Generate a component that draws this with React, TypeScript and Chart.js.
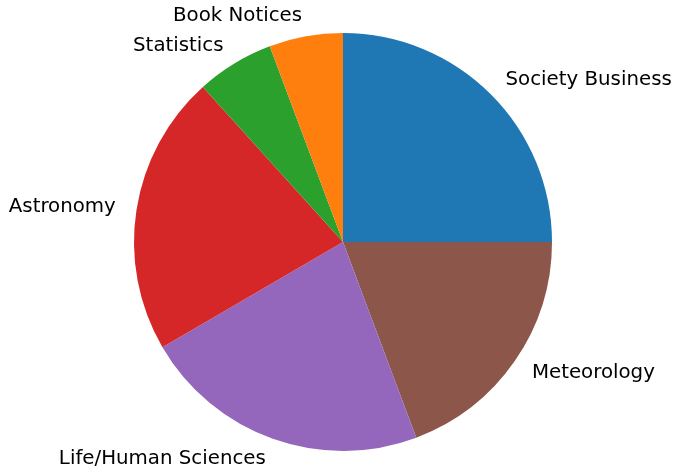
import React, { useEffect, useRef } from "react";
import { Chart, registerables } from "chart.js";

Chart.register(...registerables);

// Categories in matplotlib order (counter-clockwise from 3 o'clock)
const categories = [
  "Society Business",
  "Book Notices",
  "Statistics",
  "Astronomy",
  "Life/Human Sciences",
  "Meteorology",
];
const values = [25.0, 5.7, 6.0, 21.7, 22.3, 19.3];
const colors = ["#1f77b4", "#ff7f0e", "#2ca02c", "#d62728", "#9467bd", "#8c564b"];

const FONT_SIZE = 19.8;

const labelPlugin = {
  id: "outerLabels",
  afterDatasetsDraw(chart: any) {
    const ctx = chart.ctx;
    const meta = chart.getDatasetMeta(0);
    ctx.save();
    ctx.fillStyle = "#000000";
    ctx.font = `${FONT_SIZE}px "DejaVu Sans"`;
    ctx.textBaseline = "middle";
    meta.data.forEach((arc: any, i: number) => {
      const { x, y, startAngle, endAngle, outerRadius } = arc.getProps(
        ["x", "y", "startAngle", "endAngle", "outerRadius"],
        true
      );
      const mid = (startAngle + endAngle) / 2;
      const r = outerRadius * 1.1;
      const tx = x + r * Math.cos(mid);
      const ty = y + r * Math.sin(mid);
      ctx.textAlign = Math.cos(mid) > 0 ? "left" : "right";
      ctx.fillText(chart.data.labels[i], tx, ty);
    });
    ctx.restore();
  },
};

export default function App() {
  const ref = useRef<HTMLCanvasElement | null>(null);
  useEffect(() => {
    if (!ref.current) return;
    // Reverse order so that clockwise drawing from 3 o'clock matches matplotlib's CCW order
    const labels = [...categories].reverse();
    const data = [...values].reverse();
    const bg = [...colors].reverse();
    const chart = new Chart(ref.current, {
      type: "pie",
      data: {
        labels,
        datasets: [
          {
            data,
            backgroundColor: bg,
            borderWidth: 0,
          },
        ],
      },
      options: {
        animation: false,
        responsive: false,
        rotation: 90,
        layout: { padding: { top: 33, bottom: 21, left: 134, right: 124 } },
        plugins: {
          legend: { display: false },
          tooltip: { enabled: false },
        },
      },
      plugins: [labelPlugin],
    });
    return () => chart.destroy();
  }, []);
  return (
    <div style={{ position: "fixed", left: 0, top: 0, width: 676, height: 472, background: "#ffffff" }}>
      <canvas ref={ref} width={676} height={472} style={{ width: 676, height: 472 }} />
    </div>
  );
}
